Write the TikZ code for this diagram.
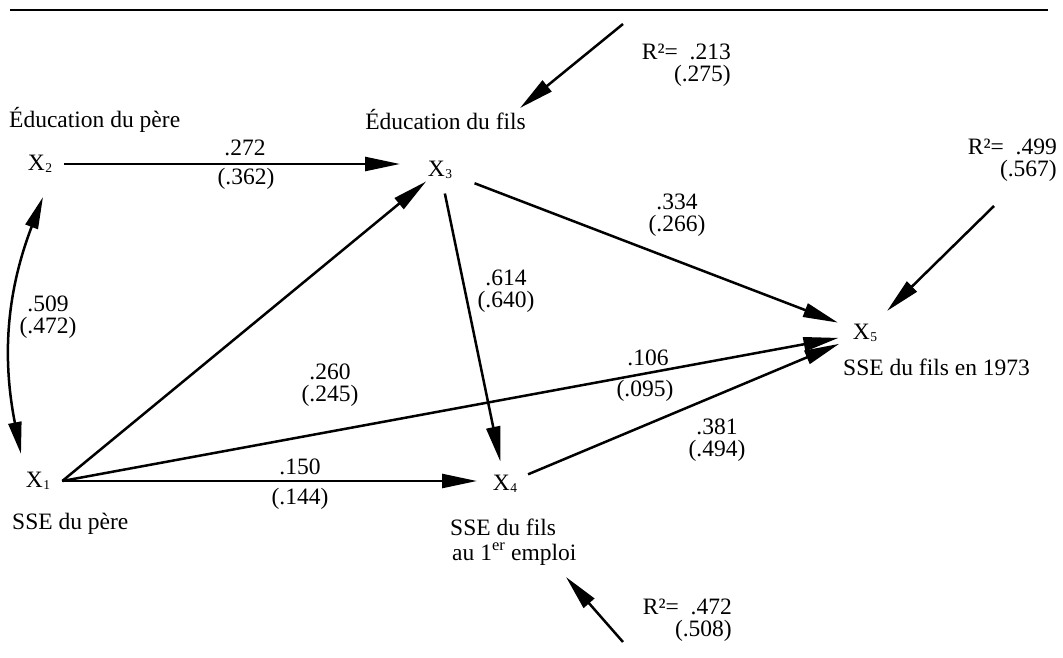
\documentclass[tikz,border=0pt]{standalone}
\usepackage{fontspec}
\setmainfont{Liberation Serif}
\usetikzlibrary{arrows.meta,calc}
% variable name with a small lowered index
\newcommand{\vx}[1]{X\kern0.5pt\raisebox{-1.5pt}{\fontsize{13.5}{13.5}\selectfont #1}}
\begin{document}
\begin{tikzpicture}[x=1pt,y=-1pt,
  lbl/.style={inner sep=0pt,font=\fontsize{23.5}{22}\selectfont},
  var/.style={inner sep=0pt,inner xsep=12pt,font=\fontsize{23.5}{22}\selectfont},
  link/.style={line width=2.5pt,-{Triangle[length=35pt,width=14pt]}},
  corr/.style={line width=2.5pt,{Triangle[length=32pt,width=13pt]}-{Triangle[length=32pt,width=13pt]}},
  rule/.style={line width=2.5pt}]
\useasboundingbox (0,0) rectangle (1063,658);

% rule above the figure
\draw[rule] (10,10) -- (1048,10);

% variables
\node[var] (X2) at (40,164) {\vx{2}};
\node[var] (X3) at (440,170) {\vx{3}};
\node[var] (X1) at (38,481) {\vx{1}};
\node[var] (X4) at (505,484) {\vx{4}};
\node[var] (X5) at (865,333) {\vx{5}};

% variable descriptions
\node[lbl,anchor=west] (dX2) at (9,120) {Éducation du père};
\node[lbl,anchor=east] (dX3) at (526,120) {Éducation du fils};
\node[lbl,anchor=west] (dX1) at (12,524) {SSE du père};
\node[lbl,anchor=base west] (dX4a) at (450,535) {SSE du fils};
\node[lbl,anchor=base west] (dX4b) at (452,560) {au 1\textsuperscript{er} emploi};
\node[lbl,anchor=west] (dX5) at (843,367) {SSE du fils en 1973};

% causal paths
\draw[link,shorten >=40pt] (X2.east) -- (X2.east -| X3.center);
\draw[link,shorten >=18pt] (X1.east) -- (X3.center);
\draw[link,shorten >=28pt] (X1.east) -- (X1.east -| X4.center);
\draw[link,shorten >=27pt] (X1.east) -- (X5.center);
\draw[link,shorten <=24pt,shorten >=23pt] (X3.center) -- (X4.center);
\draw[link,shorten <=37pt,shorten >=29pt] (X3.center) -- (X5.center);
\draw[link,shorten <=25pt,shorten >=28pt] (X4.center) -- (X5.center);

% correlation between the exogenous variables
\draw[corr] ($(X2.center)+(3,33)$) to[bend right=16] ($(X1.center)+(-17,-27)$);

% residual paths
\coordinate (e3) at (623,24);  \coordinate (e3t) at (520,108);
\coordinate (e5) at (994,206); \coordinate (e5t) at (887,311);
\coordinate (e4) at (623,642); \coordinate (e4t) at (566,577);
\draw[link] (e3) -- (e3t);
\draw[link] (e5) -- (e5t);
\draw[link] (e4) -- (e4t);

% explained variance
\node[lbl,anchor=east,align=right] (r3) at (731,65) {R²=\enspace.213\\(.275)};
\node[lbl,anchor=east,align=right] (r5) at (1057,160) {R²=\enspace.499\\(.567)};
\node[lbl,anchor=east,align=right] (r4) at (732,620) {R²=\enspace.472\\(.508)};

% path coefficients
\node[lbl] (c23a) at (245,148) {.272};
\node[lbl] (c23b) at (246,179) {(.362)};
\node[lbl,align=center] (c12) at (48,317) {.509\\(.472)};
\node[lbl,align=center] (c13) at (330,385) {.260\\(.245)};
\node[lbl,align=center] (c34) at (506,291) {.614\\(.640)};
\node[lbl,align=center] (c35) at (677,215) {.334\\(.266)};
\node[lbl] (c15a) at (648,358) {.106};
\node[lbl] (c15b) at (645,391) {(.095)};
\node[lbl] (c14a) at (300,467) {.150};
\node[lbl] (c14b) at (300,499) {(.144)};
\node[lbl,align=center] (c45) at (717,440) {.381\\(.494)};
\end{tikzpicture}
\end{document}
